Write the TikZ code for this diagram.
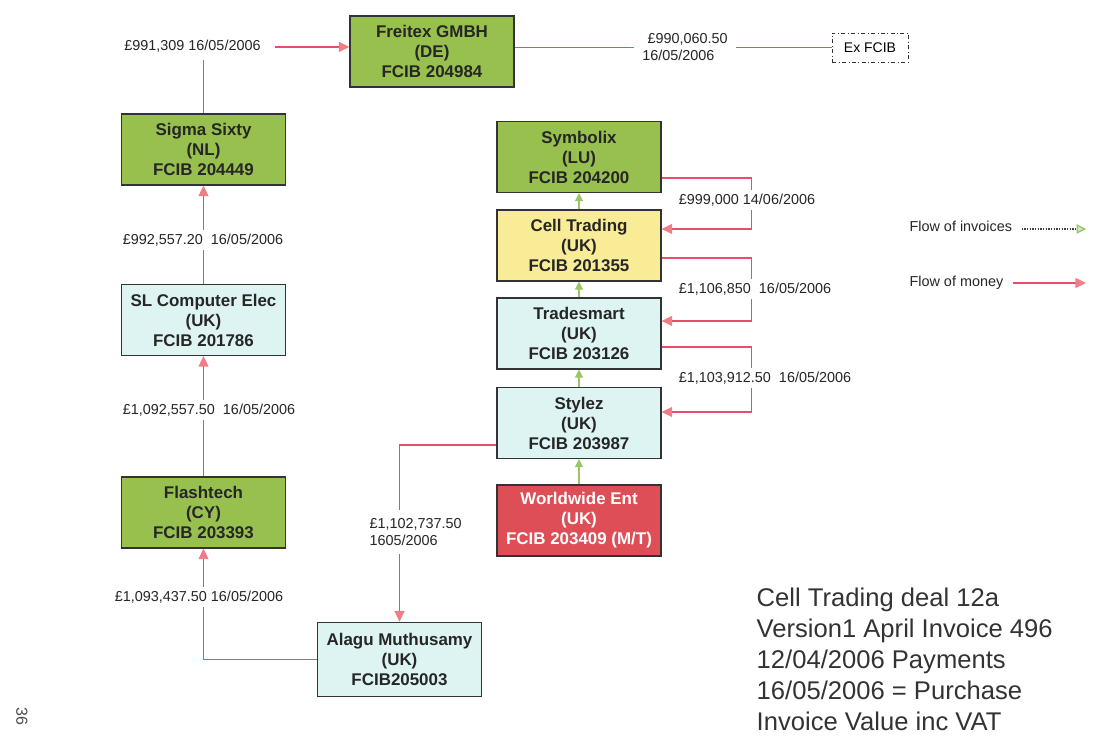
\documentclass[tikz,border=0pt]{standalone}
\usepackage{fontspec}
\setmainfont{Liberation Sans}
\usetikzlibrary{arrows.meta,positioning}
\definecolor{boxgreen}{RGB}{152,192,78}
\definecolor{boxcyan}{RGB}{222,244,242}
\definecolor{boxyellow}{RGB}{248,236,150}
\definecolor{boxred}{RGB}{222,78,86}
\definecolor{moneyred}{RGB}{230,78,108}
\definecolor{tipred}{RGB}{240,125,135}
\definecolor{invgreen}{RGB}{150,200,100}

\begin{document}
\begin{tikzpicture}[x=0.75pt,y=-0.75pt,
        firm/.style={draw=black!80,line width=0.8pt,minimum width=123pt,minimum height=53.25pt,
          inner sep=0pt,align=center,text=black!85,font=\fontsize{12.7}{15}\selectfont\bfseries},
        amount/.style={fill=white,inner xsep=4pt,inner ysep=3pt,align=left,text=black!85,
          font=\fontsize{10.8}{13}\selectfont},
        money/.style={draw=moneyred,line width=1pt,-{Triangle[length=8pt,width=7.5pt,color=tipred]}},
        invoice/.style={draw=invgreen,line width=0.9pt,-{Triangle[length=6pt,width=6pt,color=invgreen]}}
      ]
        \useasboundingbox (0,0) rectangle (1099,752);
        % left chain
        \node[firm,fill=boxgreen] (freitex) at (432,51.5) {Freitex GMBH\\(DE)\\FCIB 204984};
        \node[firm,fill=boxgreen] (sigma) at (203.5,149.5) {Sigma Sixty\\(NL)\\FCIB 204449};
        \node[firm,fill=boxcyan] (slcomp) at (203.5,320) {SL Computer Elec\\(UK)\\FCIB 201786};
        \node[firm,fill=boxgreen] (flash) at (203.5,512.5) {Flashtech\\(CY)\\FCIB 203393};
        \node[firm,fill=boxcyan,minimum height=56pt] (alagu) at (399.5,659.5) {Alagu Muthusamy\\(UK)\\FCIB205003};
        % right chain
        \node[firm,fill=boxgreen] (symbolix) at (579,157) {Symbolix\\(LU)\\FCIB 204200};
        \node[firm,fill=boxyellow] (cell) at (579,245.5) {Cell Trading\\(UK)\\FCIB 201355};
        \node[firm,fill=boxcyan] (trade) at (579,333.5) {Tradesmart\\(UK)\\FCIB 203126};
        \node[firm,fill=boxcyan] (stylez) at (579,423) {Stylez\\(UK)\\FCIB 203987};
        \node[firm,fill=boxred,text=white] (world) at (579,520.5) {Worldwide Ent\\(UK)\\FCIB 203409 (M/T)};
        \node[draw=black!80,dash dot,line width=0.7pt,minimum width=57pt,minimum height=21.75pt,
          font=\fontsize{10.5}{12}\selectfont] (exfcib) at (870,47.5) {Ex FCIB};

        % money
        \draw[money] (alagu.west) -| (flash.south);
        \draw[money] (flash.north) -- (slcomp.south);
        \draw[money] (slcomp.north) -- (sigma.south);
        \draw[money] (sigma.north) |- ([yshift=3.4pt]freitex.west);
        \draw[draw=moneyred,line width=1pt] (freitex.east |- exfcib.west) -- (exfcib.west);
        \draw[money] ([yshift=-15.75pt]symbolix.east) -- ++(90,0) |- ([yshift=12.4pt]cell.east);
        \draw[money] ([yshift=-9.4pt]cell.east) -- ++(90,0) |- ([yshift=9.4pt]trade.east);
        \draw[money] ([yshift=-10pt]trade.east) -- ++(90,0) |- ([yshift=8.25pt]stylez.east);
        \draw[money] ([yshift=-16.5pt]stylez.west) -| (alagu.north);

        % invoices
        \draw[invoice] (world.north) -- (stylez.south);
        \draw[invoice] (stylez.north) -- (trade.south);
        \draw[invoice] (trade.north) -- (cell.south);
        \draw[invoice] (cell.north) -- (symbolix.south);

        % amounts
        \node[amount,inner xsep=11pt,inner ysep=6pt] (a991) at (192.5,46) {£991,309 16/05/2006};
        \node[amount,anchor=west,inner xsep=6pt] (a990) at (634,47) {\hspace*{4pt}£990,060.50\\16/05/2006};
        \node[amount] (a992) at (203,240) {£992,557.20\ \ 16/05/2006};
        \node[amount] (a1092) at (209,410) {£1,092,557.50\ \ 16/05/2006};
        \node[amount] (a1093) at (199,597) {£1,093,437.50 16/05/2006};
        \node[amount,anchor=west,inner ysep=6pt] (a1102) at (364,532) {£1,102,737.50\\1605/2006};
        \node[amount] (a999) at (747,200) {£999,000 14/06/2006};
        \node[amount] (a1106) at (755,289) {£1,106,850\ \ 16/05/2006};
        \node[amount] (a1103) at (765,378) {£1,103,912.50\ \ 16/05/2006};

        % key
        \node[amount,fill=none,anchor=west] (keyinv) at (904,226) {Flow of invoices};
        \node[amount,fill=none,anchor=west] (keymon) at (904,283) {Flow of money};
        \coordinate (invend) at (1086,229);
        \coordinate (monend) at (1086,283);
        \draw[black!75,densely dotted,line width=1pt,-{Triangle[length=7pt,width=7pt,color=invgreen,open,fill=invgreen!40]}]
          (keyinv.east |- invend) ++(4,0) -- (invend);
        \draw[money] (keymon.east |- monend) ++(4,0) -- (monend);

        \node[anchor=north west,align=left,text=black!80,font=\fontsize{19.2}{23.25}\selectfont] (note) at (752,583)
          {Cell Trading deal 12a\\Version1 April Invoice 496\\12/04/2006 Payments\\16/05/2006 = Purchase\\Invoice Value inc VAT};
        \node[rotate=-90,text=black!70,font=\fontsize{12}{12}\selectfont] (pageno) at (22,716) {36};
      \end{tikzpicture}
\end{document}
